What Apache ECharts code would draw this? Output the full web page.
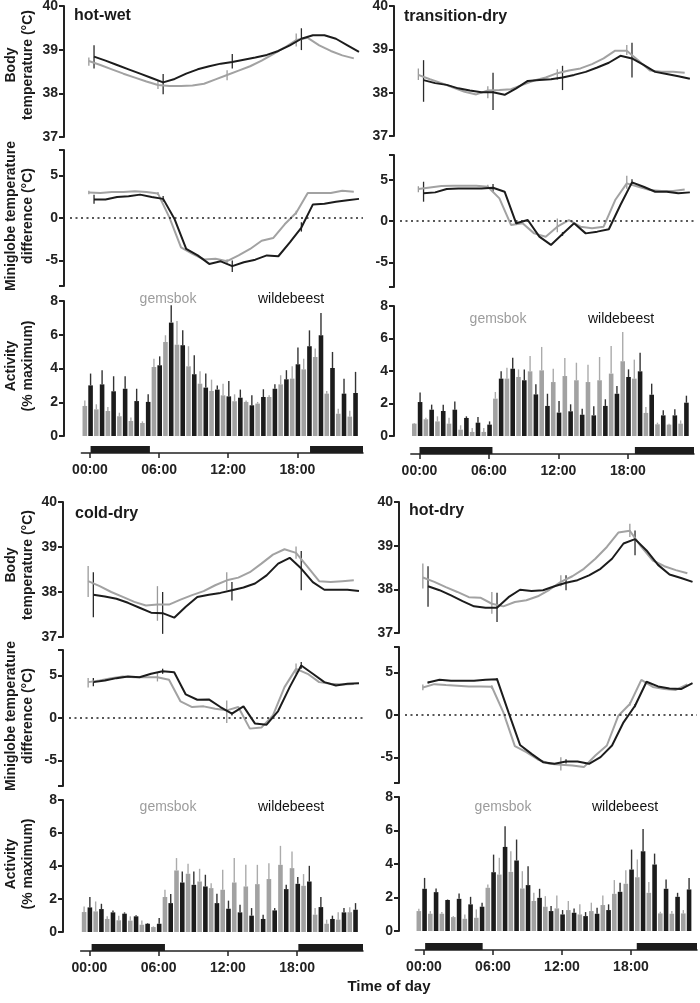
<!DOCTYPE html>
<html><head><meta charset="utf-8">
<script src="https://cdn.jsdelivr.net/npm/echarts@6/dist/echarts.min.js"></script>
<style>html,body{margin:0;padding:0;background:#fff}#c{width:700px;height:1003px}</style>
</head><body><div id="c"></div>
<script>
// ---------------- DATA ----------------
const hours = [0,1,2,3,4,5,6,7,8,9,10,11,12,13,14,15,16,17,18,19,20,21,22,23];
const tickHours = [0,6,12,18];
const tickLabels = ['00:00','06:00','12:00','18:00'];
const panelTitles = ['hot-wet','transition-dry','cold-dry','hot-dry'];
const speciesNames = ['gemsbok','wildebeest'];

// hot-wet
const hotWetBodyGems = [38.74,38.65,38.55,38.45,38.36,38.27,38.19,38.17,38.17,38.18,38.22,38.32,38.42,38.52,38.62,38.75,38.9,39.05,39.22,39.27,39.1,38.97,38.87,38.8];
const hotWetBodyWild = [38.84,38.75,38.65,38.55,38.45,38.35,38.25,38.33,38.45,38.55,38.62,38.68,38.72,38.77,38.82,38.88,38.97,39.1,39.25,39.33,39.33,39.25,39.1,38.95];
const hotWetBodyErrGems = [[0,38.63,38.82],[6,38.1,38.3],[12,38.3,38.53],[18,39.07,39.37]];
const hotWetBodyErrWild = [[0,38.57,39.1],[6,37.98,38.44],[12,38.57,38.9],[18,38.99,39.49]];
const hotWetGlobeGems = [3.0,2.95,3.06,3.06,3.14,3.06,2.87,0.04,-3.45,-4.22,-4.88,-4.8,-5.08,-4.4,-3.64,-2.67,-2.36,-0.74,0.62,2.95,2.95,2.95,3.2,3.1];
const hotWetGlobeWild = [2.17,2.17,2.48,2.56,2.75,2.48,2.25,-0.15,-3.64,-4.4,-5.4,-5.1,-5.66,-5.2,-4.9,-4.4,-4.5,-2.87,-1.12,1.6,1.67,1.9,2.1,2.25];
const hotWetGlobeErrGems = [[0,2.8,3.2],[6,2.7,3.05],[12,-5.3,-4.85],[18,0.4,0.85]];
const hotWetGlobeErrWild = [[0,1.67,2.75],[6,1.9,2.6],[12,-6.36,-5.0],[18,-1.6,-0.5]];
const hotWetActGems = [1.78,1.58,1.48,1.17,0.89,0.77,4.09,5.57,5.41,4.13,3.1,2.67,2.41,2.06,2.02,1.92,2.31,3.06,3.4,3.95,4.68,2.51,1.32,1.15];
const hotWetActGemsErr = [2.11,1.88,1.72,1.38,1.09,0.87,4.58,5.97,6.82,5.32,3.83,3.34,3.1,2.47,2.11,2.02,2.41,3.6,4.13,4.58,5.18,2.67,1.62,1.5];
const hotWetActWild = [3.0,3.06,2.65,2.8,2.07,2.02,4.19,6.72,5.38,3.66,2.87,2.75,2.35,2.27,1.82,2.31,2.8,3.36,4.25,5.32,5.97,4.03,2.51,2.55];
const hotWetActWildErr = [3.7,3.9,3.54,3.54,2.8,2.47,4.72,7.75,6.26,4.78,3.7,3.0,3.26,2.75,2.41,2.77,3.06,3.9,5.24,6.26,7.29,4.98,3.4,3.8];
const hotWetNight = [[0.05,5.2],[19.1,24]];

// transition-dry
const transDryBodyGems = [38.41,38.31,38.22,38.12,38.02,37.96,38.05,38.06,38.08,38.18,38.28,38.35,38.45,38.51,38.56,38.66,38.79,38.97,38.97,38.74,38.51,38.48,38.48,38.46];
const transDryBodyWild = [38.29,38.22,38.18,38.1,38.05,38.01,38.01,37.95,38.1,38.27,38.29,38.31,38.35,38.41,38.48,38.58,38.69,38.85,38.79,38.64,38.48,38.43,38.38,38.32];
const transDryBodyErrGems = [[0,38.29,38.56],[6,37.87,38.15],[12,38.29,38.54],[18,38.87,39.1]];
const transDryBodyErrWild = [[0,37.79,38.75],[6,37.6,38.46],[12,38.06,38.62],[18,38.35,39.15]];
const transDryGlobeGems = [3.87,4.07,4.23,4.27,4.27,4.27,4.15,2.74,-0.48,-0.28,-1.5,-1.9,-0.69,0.12,-0.69,-0.89,-0.69,2.54,4.56,4.15,3.75,3.63,3.63,3.83];
const transDryGlobeWild = [3.35,3.47,3.87,3.95,3.95,3.95,4.03,3.55,-0.28,0.12,-1.9,-2.9,-1.57,-0.28,-1.5,-1.29,-1.0,1.94,4.68,4.15,3.55,3.55,3.35,3.47];
const transDryGlobeErrGems = [[0,3.5,4.2],[6,3.9,4.4],[12,-1.35,0.3],[18,3.9,5.5]];
const transDryGlobeErrWild = [[0,2.34,4.76],[6,3.55,4.5],[12,-1.8,-1.35],[18,4.3,5.05]];
const transDryActGems = [0.76,1.03,0.9,0.76,0.39,0.25,0.25,2.3,3.53,3.63,3.98,4.04,3.32,3.69,3.43,3.32,3.43,3.84,4.6,3.53,1.42,0.72,0.7,0.76];
const transDryActGemsErr = [0.8,1.13,1.21,1.13,0.66,0.49,0.49,2.71,4.2,4.1,4.92,5.48,4.14,4.8,4.51,4.39,4.86,5.54,6.4,4.7,1.78,0.82,0.75,0.96];
const transDryActWild = [2.09,1.62,1.54,1.62,1.11,0.82,0.7,3.53,4.14,3.43,2.56,1.85,1.44,1.52,1.31,1.27,1.85,2.6,3.63,3.98,2.54,1.27,1.27,2.05];
const transDryActWildErr = [2.67,1.93,1.93,2.13,1.21,1.17,0.9,3.98,4.82,4.1,3.18,2.6,2.15,1.95,1.68,1.83,2.26,3.08,4.1,5.13,3.22,1.58,1.64,2.48];
const transDryNight = [[0,6.3],[18.6,24]];

// cold-dry
const coldDryBodyGems = [38.24,38.13,38.0,37.89,37.78,37.7,37.72,37.72,37.83,37.93,38.02,38.15,38.26,38.32,38.44,38.63,38.83,38.95,38.87,38.56,38.24,38.22,38.24,38.26];
const coldDryBodyWild = [37.94,37.9,37.85,37.76,37.65,37.54,37.53,37.43,37.67,37.89,37.94,37.98,38.04,38.1,38.19,38.37,38.63,38.76,38.52,38.22,38.05,38.05,38.05,38.02];
const coldDryBodyErrGems = [[0,37.89,38.58],[6,37.36,38.13],[12,38.04,38.44],[18,38.74,39.01]];
const coldDryBodyErrWild = [[0,37.44,38.44],[6,37.07,38.0],[12,37.81,38.22],[18,38.04,38.91]];
const coldDryGlobeGems = [4.22,4.41,4.69,4.88,4.8,4.8,4.8,4.49,1.95,1.29,1.37,1.09,0.9,1.29,-1.25,-1.13,0.31,3.63,5.78,5.2,4.22,4.02,3.95,4.0];
const coldDryGlobeWild = [4.22,4.41,4.69,4.88,4.8,5.2,5.5,5.39,2.77,2.15,2.19,1.29,0.51,1.37,-0.66,-0.78,0.82,3.63,6.17,5.2,4.22,3.83,4.02,4.1];
const coldDryGlobeErrGems = [[0,3.6,4.7],[6,4.3,5.4],[12,-0.59,2.07],[18,5.2,6.4]];
const coldDryGlobeErrWild = [[0,3.75,4.7],[6,5.2,5.8],[12,0.3,0.7],[18,5.8,6.6]];
const coldDryActGems = [1.21,1.25,0.79,0.71,0.69,0.44,0.3,2.12,3.73,3.53,3.06,2.66,2.56,3.0,2.76,2.9,3.21,4.07,3.87,2.8,1.05,0.5,0.75,1.2];
const coldDryActGemsErr = [1.55,1.85,0.95,0.99,0.95,0.69,0.34,2.56,4.48,4.13,3.83,2.96,3.77,4.48,4.07,4.07,4.17,5.22,4.88,3.51,1.45,0.75,1.19,1.5];
const coldDryActWild = [1.49,1.39,1.19,1.11,0.95,0.5,0.5,1.75,3.0,2.86,2.76,1.75,1.41,1.19,0.99,0.79,1.31,2.6,2.92,3.06,1.51,0.79,1.19,1.35];
const coldDryActWildErr = [2.12,1.71,1.31,1.19,1.01,0.54,0.85,2.3,3.67,3.67,3.47,2.32,1.9,1.65,1.45,1.05,1.45,2.86,3.33,4.01,2.12,0.99,1.45,1.75];
const coldDryNight = [[0.2,6.55],[18.1,24]];

// hot-dry
const hotDryBodyGems = [38.27,38.17,38.05,37.94,37.82,37.81,37.67,37.61,37.71,37.75,37.84,37.99,38.17,38.3,38.47,38.7,38.97,39.3,39.34,38.97,38.66,38.53,38.44,38.37];
const hotDryBodyWild = [38.07,37.98,37.86,37.73,37.61,37.58,37.58,37.82,37.99,37.96,37.98,38.07,38.15,38.21,38.32,38.47,38.7,39.05,39.15,38.89,38.56,38.34,38.26,38.17];
const hotDryBodyErrGems = [[0,38.02,38.59],[6,37.44,37.94],[12,38.07,38.32],[18,39.2,39.5]];
const hotDryBodyErrWild = [[0,37.6,38.53],[6,37.25,37.92],[12,37.98,38.32],[18,38.78,39.35]];
const hotDryGlobeGems = [3.24,3.63,3.52,3.44,3.36,3.36,3.32,0.31,-3.67,-4.38,-5.23,-5.74,-5.86,-5.94,-6.13,-4.77,-3.59,-0.08,1.29,4.14,3.3,3.05,2.95,3.6];
const hotDryGlobeWild = [3.83,4.14,4.02,4.02,4.02,4.14,4.22,0.3,-3.52,-4.57,-5.55,-5.74,-5.47,-5.47,-5.74,-4.96,-3.59,-0.86,1.09,3.91,3.36,3.13,3.05,3.75];
const hotDryGlobeErrGems = [[0,2.9,3.6],[6,3.1,3.5],[12,-6.52,-4.96],[18,1.1,1.5]];
const hotDryGlobeErrWild = [[0,3.7,3.95],[6,4.1,4.35],[12,-5.7,-5.2],[18,0.9,1.3]];
const hotDryActGems = [1.19,1.03,1.03,0.83,0.73,0.79,2.58,3.37,3.53,2.54,1.79,1.45,1.35,1.25,0.99,1.19,1.55,2.22,2.82,3.21,2.28,1.05,1.03,1.05];
const hotDryActGemsErr = [1.33,1.19,1.13,0.89,0.99,1.29,2.78,4.37,4.76,3.57,2.28,2.08,2.12,1.79,1.59,1.69,2.12,3.04,3.63,4.27,2.92,1.15,1.19,1.25];
const hotDryActWild = [2.52,2.32,1.85,1.92,1.59,1.45,3.51,5.02,4.21,2.74,1.98,1.19,0.99,1.09,0.89,1.03,1.25,2.34,3.67,4.76,3.97,2.52,2.04,2.48];
const hotDryActWildErr = [3.17,2.54,1.88,2.24,2.04,1.69,4.56,6.25,5.46,3.87,2.52,1.49,1.25,1.35,1.13,1.39,1.59,2.88,4.86,6.09,4.62,3.08,2.28,3.17];
const hotDryNight = [[0.1,5.1],[18.5,24]];

// ---------------- STYLE / LAYOUT ----------------
const FONT = '"Liberation Sans", Arial, Helvetica, sans-serif';
const GRAY = '#a2a2a2', BLACK = '#1c1c1c', AXIS = '#222';
const GRAY_LINE_SHIFT = -0.1, BLACK_LINE_SHIFT = 0.35, GRAY_BAR_SHIFT = -0.45, BLACK_BAR_SHIFT = 0.05, BAR_W = 4.6;

const panels = [
  {title: panelTitles[0], bG: hotWetBodyGems, bW: hotWetBodyWild, beG: hotWetBodyErrGems, beW: hotWetBodyErrWild,
   gG: hotWetGlobeGems, gW: hotWetGlobeWild, geG: hotWetGlobeErrGems, geW: hotWetGlobeErrWild,
   aG: hotWetActGems, aGe: hotWetActGemsErr, aW: hotWetActWild, aWe: hotWetActWildErr, night: hotWetNight,
   L: {x0: 90, pph: 11.52, axisX: 64, right: 363, body: [6, 131], globe: [150, 136], act: [301, 135], xLine: 453, title: [74, 16], leg: [299, 168, 291], yt: [65, 216, 366]}},
  {title: panelTitles[1], bG: transDryBodyGems, bW: transDryBodyWild, beG: transDryBodyErrGems, beW: transDryBodyErrWild,
   gG: transDryGlobeGems, gW: transDryGlobeWild, geG: transDryGlobeErrGems, geW: transDryGlobeErrWild,
   aG: transDryActGems, aGe: transDryActGemsErr, aW: transDryActWild, aWe: transDryActWildErr, night: transDryNight,
   L: {x0: 419.5, pph: 11.58, axisX: 394, right: 694, body: [6, 130], globe: [155, 132], act: [306, 130], xLine: 454, title: [404, 17], leg: [319, 498, 621], yt: null}},
  {title: panelTitles[2], bG: coldDryBodyGems, bW: coldDryBodyWild, beG: coldDryBodyErrGems, beW: coldDryBodyErrWild,
   gG: coldDryGlobeGems, gW: coldDryGlobeWild, geG: coldDryGlobeErrGems, geW: coldDryGlobeErrWild,
   aG: coldDryActGems, aGe: coldDryActGemsErr, aW: coldDryActWild, aWe: coldDryActWildErr, night: coldDryNight,
   L: {x0: 89.3, pph: 11.55, axisX: 63, right: 363, body: [502, 135], globe: [650, 136], act: [800, 132], xLine: 951, title: [75, 514], leg: [807, 168, 291], yt: [565, 716, 864]}},
  {title: panelTitles[3], bG: hotDryBodyGems, bW: hotDryBodyWild, beG: hotDryBodyErrGems, beW: hotDryBodyErrWild,
   gG: hotDryGlobeGems, gW: hotDryGlobeWild, geG: hotDryGlobeErrGems, geW: hotDryGlobeErrWild,
   aG: hotDryActGems, aGe: hotDryActGemsErr, aW: hotDryActWild, aWe: hotDryActWildErr, night: hotDryNight,
   L: {x0: 424, pph: 11.5, axisX: 399, right: 697, body: [502, 131], globe: [647, 136], act: [797, 134], xLine: 950, title: [409, 511], leg: [807, 503, 625], yt: null}}
];

const grids = [], xAxes = [], yAxes = [], series = [], graphics = [];

function addGrid(left, top, right, height, L) {
  const idx = grids.length;
  grids.push({left: left, top: top, width: right - left, height: height, containLabel: false, outerBoundsMode: 'none'});
  xAxes.push({type: 'value', gridIndex: idx, min: (left - L.x0) / L.pph, max: (right - L.x0) / L.pph, show: false,
    splitLine: {show: false}});
  return idx;
}
function yAx(idx, min, max, ticks, labels, offset) {
  yAxes.push({type: 'value', gridIndex: idx, min: min, max: max, offset: offset,
    axisLine: {show: true, onZero: false, lineStyle: {color: AXIS, width: 2}},
    axisTick: {show: true, length: 5, customValues: ticks, lineStyle: {color: AXIS, width: 2}},
    axisLabel: {customValues: labels, fontFamily: FONT, fontWeight: 'bold', fontSize: 14, color: AXIS, margin: 6},
    splitLine: {show: false}});
}
function lineSeries(idx, vals, shift, color, extra) {
  const s = {type: 'line', xAxisIndex: idx, yAxisIndex: idx, symbol: 'none', showSymbol: false,
    data: hours.map((h, i) => [h + shift, vals[i]]), lineStyle: {color: color, width: 2}, itemStyle: {color: color},
    silent: true, animation: false};
  return Object.assign(s, extra || {});
}
function errSeries(idx, errs, shift, color) {
  return {type: 'custom', xAxisIndex: idx, yAxisIndex: idx, silent: true, animation: false,
    data: errs.map(e => [e[0] + shift, e[1], e[2]]), encode: {x: 0, y: [1, 2]},
    renderItem: function (params, api) {
      const a = api.coord([api.value(0), api.value(1)]);
      const b = api.coord([api.value(0), api.value(2)]);
      return {type: 'line', shape: {x1: a[0], y1: a[1], x2: b[0], y2: b[1]}, style: {stroke: color, lineWidth: 1.3}};
    }};
}
function barSeries(idx, vals, errs, shift, color, errColor) {
  return {type: 'custom', xAxisIndex: idx, yAxisIndex: idx, silent: true, animation: false,
    data: hours.map((h, i) => [h + shift, vals[i], errs[i]]), encode: {x: 0, y: 1},
    renderItem: function (params, api) {
      const x = api.value(0);
      const p0 = api.coord([x, 0]), p1 = api.coord([x, api.value(1)]), p2 = api.coord([x, api.value(2)]);
      return {type: 'group', children: [
        {type: 'line', shape: {x1: p1[0], y1: p1[1], x2: p2[0], y2: p2[1]}, style: {stroke: errColor, lineWidth: 1.4}},
        {type: 'rect', shape: {x: p0[0] - BAR_W / 2, y: p1[1], width: BAR_W, height: p0[1] - p1[1]}, style: {fill: color}}
      ]};
    }};
}
function nightSeries(idx, periods) {
  return {type: 'custom', xAxisIndex: idx, yAxisIndex: idx, silent: true, animation: false,
    data: periods, encode: {x: [0, 1]},
    renderItem: function (params, api) {
      const a = api.coord([api.value(0), 1]), b = api.coord([api.value(1), 0]);
      const cs = params.coordSys;
      const shape = echarts.graphic.clipRectByRect({x: a[0], y: a[1], width: b[0] - a[0], height: b[1] - a[1]},
        {x: cs.x, y: cs.y, width: cs.width, height: cs.height});
      return shape && {type: 'rect', shape: shape, style: {fill: BLACK}};
    }};
}
function txt(x, y, text, font, color, align, rot) {
  graphics.push({type: 'text', x: x, y: y, rotation: rot || 0, silent: true,
    style: {text: text, font: font, fill: color, align: align || 'center', verticalAlign: 'middle'}});
}

panels.forEach(p => {
  const L = p.L;
  const left = L.x0 - 0.75 * L.pph;
  // body temperature
  const gb = addGrid(left, L.body[0], L.right, L.body[1], L);
  yAx(gb, 37, 40, [37, 38, 39, 40], [37, 38, 39, 40], left - L.axisX);
  series.push(lineSeries(gb, p.bG, GRAY_LINE_SHIFT, GRAY));
  series.push(errSeries(gb, p.beG, GRAY_LINE_SHIFT, '#9a9a9a'));
  series.push(lineSeries(gb, p.bW, BLACK_LINE_SHIFT, BLACK));
  series.push(errSeries(gb, p.beW, BLACK_LINE_SHIFT, '#2a2a2a'));
  // miniglobe difference
  const gLeft = L.axisX + 6;
  const gg = addGrid(gLeft, L.globe[0], L.right, L.globe[1], L);
  yAx(gg, -8, 8, [-8, -5, 0, 5, 8], [-5, 0, 5], gLeft - L.axisX);
  series.push(lineSeries(gg, p.gG, GRAY_LINE_SHIFT, GRAY, {
    markLine: {silent: true, symbol: ['none', 'none'], label: {show: false}, animation: false,
      lineStyle: {type: [2, 3.5], color: '#222', width: 1.6}, data: [{yAxis: 0}]}}));
  series.push(errSeries(gg, p.geG, GRAY_LINE_SHIFT, '#9a9a9a'));
  series.push(lineSeries(gg, p.gW, BLACK_LINE_SHIFT, BLACK));
  series.push(errSeries(gg, p.geW, BLACK_LINE_SHIFT, '#2a2a2a'));
  // activity
  const ga = addGrid(left, L.act[0], L.right, L.act[1], L);
  yAx(ga, 0, 8, [0, 2, 4, 6, 8], [0, 2, 4, 6, 8], left - L.axisX);
  series.push(barSeries(ga, p.aG, p.aGe, GRAY_BAR_SHIFT, GRAY, '#ababab'));
  series.push(barSeries(ga, p.aW, p.aWe, BLACK_BAR_SHIFT, BLACK, '#333'));
  // night bars + time axis
  const gn = addGrid(left, L.xLine - 7, L.right, 7, L);
  const xa = xAxes[gn];
  xa.show = true;
  xa.axisLine = {show: true, onZero: false, lineStyle: {color: AXIS, width: 1.5}};
  xa.axisTick = {show: true, length: 5, customValues: tickHours, lineStyle: {color: AXIS, width: 1.5}};
  xa.axisLabel = {customValues: tickHours, formatter: v => tickLabels[tickHours.indexOf(Math.round(v))],
    fontFamily: FONT, fontWeight: 'bold', fontSize: 14, color: AXIS, margin: 10};
  yAxes.push({type: 'value', gridIndex: gn, min: 0, max: 1, show: false});
  series.push(nightSeries(gn, p.night));
  // texts
  txt(L.title[0], L.title[1], p.title, 'bold 16px ' + FONT, '#1a1a1a', 'left');
  txt(L.leg[1], L.leg[0], speciesNames[0], '14px ' + FONT, '#9c9c9c');
  txt(L.leg[2], L.leg[0], speciesNames[1], '14px ' + FONT, '#111');
  if (L.yt) {
    const f = 'bold 14px ' + FONT, r = Math.PI / 2;
    txt(11, L.yt[0], 'Body', f, '#1a1a1a', 'center', r);
    txt(28, L.yt[0], 'temperature (°C)', f, '#1a1a1a', 'center', r);
    txt(11, L.yt[1], 'Miniglobe temperature', f, '#1a1a1a', 'center', r);
    txt(28, L.yt[1], 'difference (°C)', f, '#1a1a1a', 'center', r);
    txt(11, L.yt[2], 'Activity', f, '#1a1a1a', 'center', r);
    txt(28, L.yt[2], '(% maximum)', f, '#1a1a1a', 'center', r);
  }
});
txt(389, 987, 'Time of day', 'bold 15px ' + FONT, '#1a1a1a');

const chart = echarts.init(document.getElementById('c'), null, {renderer: 'canvas'});
chart.setOption({animation: false, backgroundColor: '#fff', grid: grids, xAxis: xAxes, yAxis: yAxes, series: series, graphic: graphics});
</script></body></html>
